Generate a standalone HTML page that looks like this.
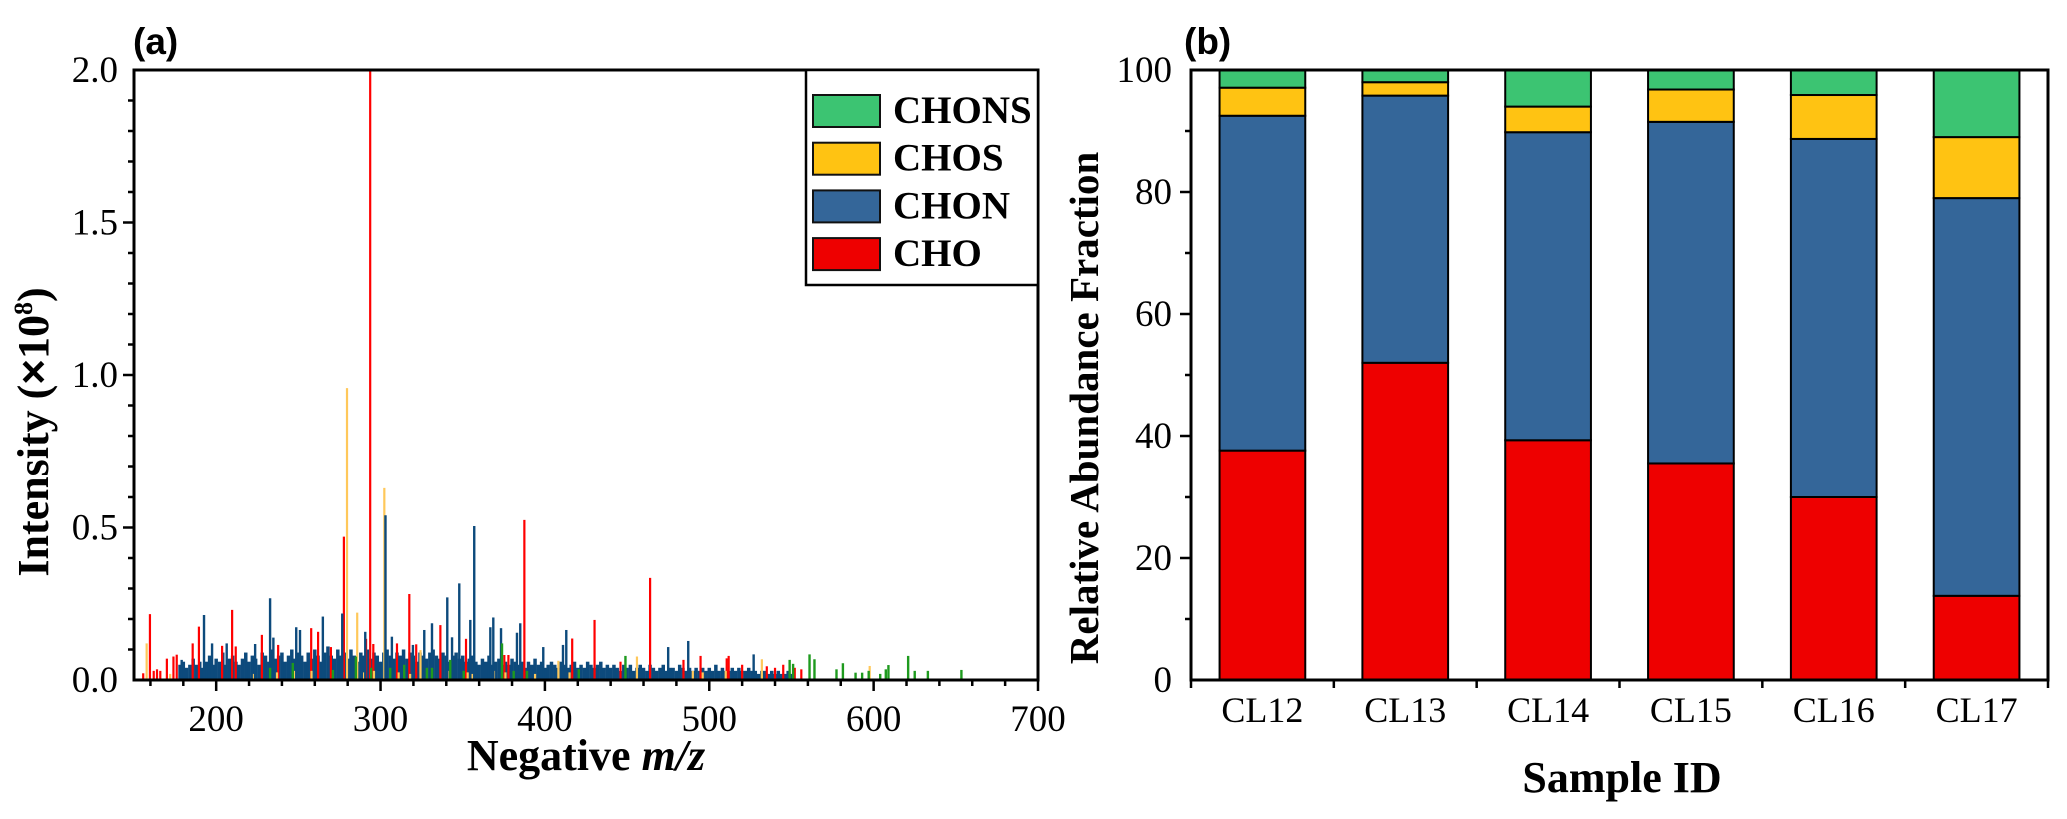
<!DOCTYPE html>
<html><head><meta charset="utf-8"><style>
html,body{margin:0;padding:0;background:#fff;}
svg{display:block;}
text{font-family:"Liberation Serif",serif;fill:#000;}
</style></head><body>
<svg id="fig" width="2067" height="819" viewBox="0 0 2067 819" xmlns="http://www.w3.org/2000/svg">
<g id="left"></g>
<g id="right"></g>
</svg>
<script>
// ---------- Panel (a) data: spectrum ----------
const mzBinStart = 178, mzBinStep = 2;
const chonBaseline = [0.05,0.06,0.04,0.05,0.07,0.05,0.06,0.04,0.06,0.08,0.05,0.07,0.06,0.09,0.05,0.07,0.08,0.06,0.05,0.07,
0.09,0.06,0.08,0.07,0.05,0.09,0.08,0.06,0.10,0.07,0.08,0.09,0.06,0.08,0.10,0.07,0.09,0.08,0.06,0.09,
0.07,0.10,0.08,0.06,0.09,0.11,0.08,0.07,0.10,0.08,0.09,0.07,0.10,0.08,0.06,0.09,0.08,0.10,0.07,0.09,
0.08,0.06,0.09,0.10,0.08,0.07,0.09,0.08,0.10,0.07,0.09,0.08,0.06,0.09,0.08,0.07,0.09,0.10,0.08,0.07,
0.09,0.08,0.06,0.08,0.09,0.07,0.08,0.06,0.07,0.08,0.06,0.05,0.07,0.06,0.08,0.05,0.06,0.07,0.05,0.06,
0.05,0.07,0.06,0.05,0.06,0.04,0.06,0.05,0.07,0.05,0.06,0.04,0.05,0.06,0.05,0.04,0.06,0.05,0.04,0.05,
0.06,0.04,0.05,0.04,0.06,0.05,0.04,0.05,0.06,0.04,0.05,0.04,0.05,0.04,0.03,0.05,0.04,0.05,0.03,0.04,
0.05,0.04,0.03,0.05,0.04,0.03,0.04,0.05,0.03,0.04,0.04,0.03,0.05,0.04,0.03,0.04,0.03,0.04,0.03,0.04,
0.03,0.04,0.03,0.05,0.03,0.04,0.03,0.03,0.04,0.03,0.04,0.03,0.03,0.04,0.03,0.03,0.02,0.03,0.03,0.02,
0.03,0.02,0.03,0.02,0.02,0.03,0.02];
const chonMz  = [179,192.6,197.5,206.4,223.7,232.8,234.8,248.7,251,264.9,276.7,290.7,303,306.9,319.7,326.6,331.3,340.6,343.5,347.9,354.6,357,366.8,368.6,373.3,383,385,399,411,413,475,487.2,527];
const chonInt = [0.066,0.213,0.12,0.12,0.118,0.268,0.139,0.173,0.164,0.208,0.218,0.158,0.54,0.142,0.115,0.164,0.186,0.271,0.14,0.317,0.197,0.505,0.173,0.205,0.17,0.155,0.186,0.108,0.115,0.164,0.108,0.128,0.084];
const choMz  = [155.6,159.7,162,164,166,170,174,176,185.7,189.5,203.6,209.7,211.9,227.8,237.7,257.8,262,269.8,277.7,291.2,293.7,295.6,310,317.5,321.7,336.4,352,375.3,377.8,387.5,416.6,430.2,446,464,484.3,494.7,510.6,511.8,520,535,540,545,552,556];
const choInt = [0.022,0.216,0.03,0.035,0.03,0.07,0.077,0.083,0.12,0.175,0.112,0.23,0.11,0.148,0.115,0.17,0.158,0.108,0.47,0.135,2.0,0.118,0.12,0.282,0.117,0.18,0.135,0.082,0.082,0.525,0.136,0.197,0.06,0.335,0.066,0.079,0.071,0.079,0.05,0.045,0.04,0.05,0.04,0.035];
const chosMz  = [157.7,172,223,237,248,258,279.6,285.8,290,296,302.3,311,318,324.3,342,353,356,369,376,394,408.2,415,456,490,496,510,532,597.6];
const chosInt = [0.12,0.02,0.02,0.025,0.03,0.03,0.957,0.221,0.025,0.03,0.63,0.025,0.02,0.098,0.03,0.025,0.02,0.03,0.025,0.02,0.063,0.025,0.077,0.03,0.025,0.03,0.068,0.046];
const chonsMz  = [232.8,246.6,271,285,294.3,305.9,314.4,328.2,331.3,342.4,350.6,373.9,381,389.1,420.6,449,548.9,551,561,564,577.4,581.3,589,593,597,604,607.4,609,621,625,633,653.4];
const chonsInt = [0.04,0.056,0.033,0.077,0.04,0.04,0.05,0.04,0.04,0.066,0.03,0.12,0.03,0.03,0.035,0.079,0.066,0.053,0.084,0.068,0.035,0.055,0.024,0.024,0.03,0.02,0.035,0.049,0.079,0.03,0.03,0.033];
const xTicksA = [200,300,400,500,600,700];
const yTicksA = [0.0,0.5,1.0,1.5,2.0];
const yTickLabelsA = ["0.0","0.5","1.0","1.5","2.0"];
// ---------- Panel (b) data: stacked bars ----------
const samples = ["CL12","CL13","CL14","CL15","CL16","CL17"];
const cho   = [37.6,52.0,39.3,35.5,30.0,13.8];
const chon  = [54.9,43.8,50.5,56.0,58.7,65.2];
const chos  = [4.6,2.2,4.2,5.3,7.2,10.0];
const chons = [2.9,2.0,6.0,3.2,4.1,11.0];
const yTicksB = [0,20,40,60,80,100];
const legendLabels = ["CHONS","CHOS","CHON","CHO"];

const NS="http://www.w3.org/2000/svg";
function mk(tag, attrs, parent){const e=document.createElementNS(NS,tag);for(const k in attrs)e.setAttribute(k,attrs[k]);parent.appendChild(e);return e;}

// ===== Panel (a) =====
const L=document.getElementById('left');
const ax={l:134,r:1038,t:70,b:680,xmin:150,xmax:700,ymax:2.0};
const xA=v=>ax.l+(v-ax.xmin)/(ax.xmax-ax.xmin)*(ax.r-ax.l);
const yA=v=>ax.b-Math.min(v,ax.ymax)/ax.ymax*(ax.b-ax.t);
function sticks(mzs,ints,color,w,name){
  const g=mk('g',{},L);
  
  
  for(let i=0;i<mzs.length;i++){
    const ln=mk('line',{x1:xA(mzs[i]),x2:xA(mzs[i]),y1:ax.b,y2:yA(ints[i]),stroke:color,'stroke-width':w},g);
    
    
  }
}
const binMz=chonBaseline.map((_,i)=>mzBinStart+i*mzBinStep);
sticks(binMz,chonBaseline,'#0d4a7c',3.5,'chon-baseline-peaks');
sticks(choMz,choInt,'#ff0000',2.2,'cho-peaks');
sticks(chosMz,chosInt,'#ffc85a',2.2,'chos-peaks');
sticks(chonMz,chonInt,'#0d4a7c',2.4,'chon-peaks');
sticks(chonsMz,chonsInt,'#1e9a1e',2.4,'chons-peaks');
// frame
const fa=mk('rect',{x:ax.l,y:ax.t,width:ax.r-ax.l,height:ax.b-ax.t,fill:'none',stroke:'#000','stroke-width':3},L);


for(let v=160;v<=700;v+=20){
  const major=v%100===0;
  const t=mk('line',{x1:xA(v),x2:xA(v),y1:ax.b,y2:ax.b+(major?11:6),stroke:'#000','stroke-width':2.5},L);
  
  
}
xTicksA.forEach(v=>{
  const t=mk('text',{x:xA(v),y:731,'text-anchor':'middle','font-size':37},L);
  t.textContent=v;
  
  
});
for(let i=1;i<20;i++){
  const v=i*0.1;const major=i%5===0;
  const t=mk('line',{x1:ax.l-(major?11:6),x2:ax.l,y1:yA(v),y2:yA(v),stroke:'#000','stroke-width':2.5},L);
  
  
}
yTicksA.forEach((v,i)=>{
  const t=mk('text',{x:118,y:yA(v)+12,'text-anchor':'end','font-size':37},L);
  t.textContent=yTickLabelsA[i];
  
  
});
const lg=mk('g',{},L);


const lgb=mk('rect',{x:806,y:70,width:232,height:215,fill:'#fff',stroke:'#000','stroke-width':2.5},lg);


const legCols=['#3cc472','#ffc312','#346699','#ee0000'];
legendLabels.forEach((lab,i)=>{
  const y0=95+i*47.7;
  const s=mk('rect',{x:813,y:y0,width:67,height:32,fill:legCols[i],stroke:'#111','stroke-width':2},lg);
  
  
  const t=mk('text',{x:893,y:y0+28,'font-size':39,'font-weight':'bold'},lg);
  t.textContent=lab;
  
  
});
const xt=mk('text',{x:586,y:770,'text-anchor':'middle','font-size':44,'font-weight':'bold'},L);
xt.innerHTML='Negative <tspan font-style="italic">m/z</tspan>';


const yt=mk('text',{x:0,y:0,transform:'translate(48,432) rotate(-90)','text-anchor':'middle','font-size':44,'font-weight':'bold'},L);
yt.innerHTML='Intensity (<tspan font-family="Liberation Sans, sans-serif">×</tspan>10<tspan font-size="26" dy="-16">8</tspan><tspan dy="16">)</tspan>';


const pa=mk('text',{x:133,y:54,'font-size':37,'font-weight':'bold',style:'font-family:"Liberation Sans",sans-serif'},L);
pa.textContent='(a)';



// ===== Panel (b) =====
const R=document.getElementById('right');
const bx={l:1191,r:2048,t:70,b:680};
const band=(bx.r-bx.l)/samples.length;
const xB=i=>bx.l+band*(i+0.5);
const yB=v=>bx.b-v/100*(bx.b-bx.t);
const barW=band*0.6;
const series=[[cho,'#ee0000','cho'],[chon,'#346699','chon'],[chos,'#ffc312','chos'],[chons,'#3cc472','chons']];
samples.forEach((s,i)=>{
  let acc=0;
  series.forEach(([arr,col,nm])=>{
    const y1=yB(acc+arr[i]), y0=yB(acc);
    const r=mk('rect',{x:xB(i)-barW/2,y:y1,width:barW,height:y0-y1,fill:col,stroke:'#000','stroke-width':2},R);
    
    
    acc+=arr[i];
  });
  const t=mk('text',{x:xB(i),y:722,'text-anchor':'middle','font-size':36},R);
  t.textContent=s;
  
  
});
const fb=mk('rect',{x:bx.l,y:bx.t,width:bx.r-bx.l,height:bx.b-bx.t,fill:'none',stroke:'#000','stroke-width':3},R);


for(let i=0;i<=samples.length;i++){
  const t=mk('line',{x1:bx.l+band*i,x2:bx.l+band*i,y1:bx.b,y2:bx.b+8,stroke:'#000','stroke-width':2.5},R);
  
  
}
for(let v=10;v<100;v+=10){
  const major=v%20===0;
  const t=mk('line',{x1:bx.l-(major?11:6),x2:bx.l,y1:yB(v),y2:yB(v),stroke:'#000','stroke-width':2.5},R);
  
  
}
yTicksB.forEach(v=>{
  const t=mk('text',{x:1172,y:yB(v)+12,'text-anchor':'end','font-size':37},R);
  t.textContent=v;
  
  
});
const xtb=mk('text',{x:1622,y:792,'text-anchor':'middle','font-size':44,'font-weight':'bold'},R);
xtb.textContent='Sample ID';


const ytb=mk('text',{x:0,y:0,transform:'translate(1098,408) rotate(-90)','text-anchor':'middle','font-size':41,'font-weight':'bold'},R);
ytb.textContent='Relative Abundance Fraction';


const pb=mk('text',{x:1184,y:54,'font-size':37,'font-weight':'bold',style:'font-family:"Liberation Sans",sans-serif'},R);
pb.textContent='(b)';


</script>
</body></html>
